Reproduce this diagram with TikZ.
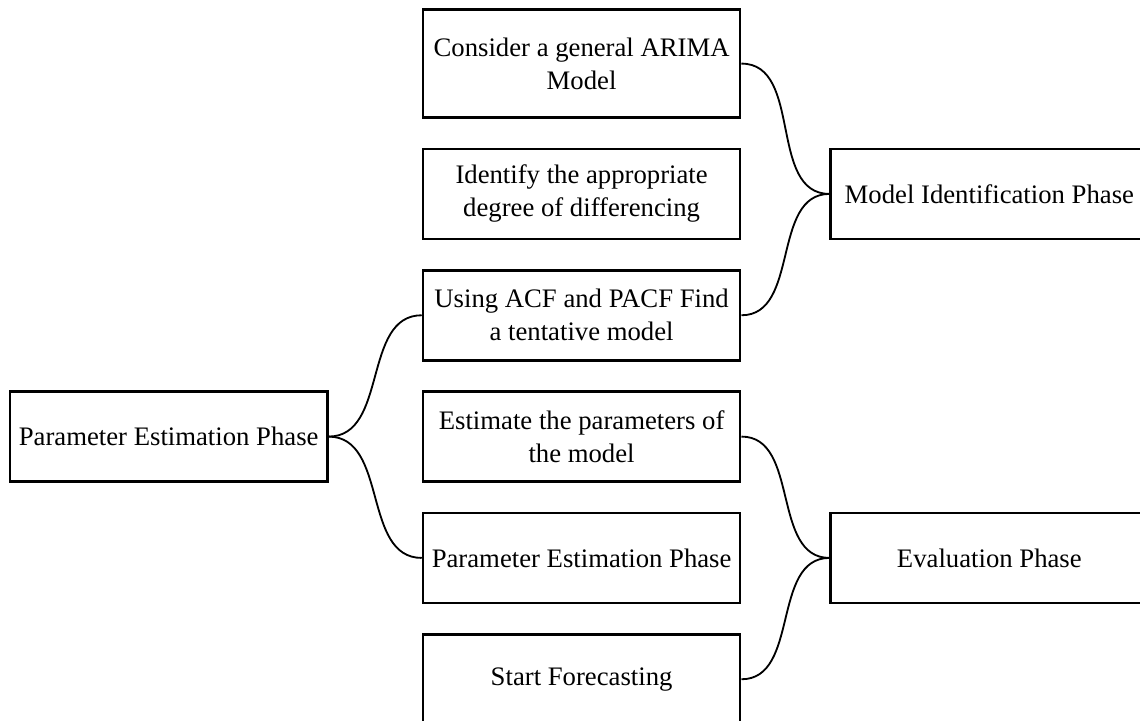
\documentclass[tikz,border=0pt]{standalone}
\usepackage{fontspec}
\setmainfont{Liberation Serif}
\usepackage{tikz}
\usetikzlibrary{positioning}

\begin{document}
\begin{tikzpicture}[node distance=0.72cm,
  link/.style={line width=1.3pt},
  phase box/.style={rectangle,draw,line width=1.8pt,align=center,
    minimum width=7.93cm,minimum height=2.25cm,inner sep=2pt,
    font=\fontsize{19}{23.5}\selectfont}]

  \useasboundingbox (0,0) rectangle (28.5,18);

  % middle column of steps
  \node[phase box,minimum height=2.7cm] (1) at (14.54,16.41) {Consider a general ARIMA\\Model};
  \node[phase box] (2) [below=of 1] {Identify the appropriate\\degree of differencing};
  \node[phase box] (3) [below=of 2] {Using ACF and PACF Find\\a tentative model};
  \node[phase box] (4) [below=of 3] {Estimate the parameters of\\the model};
  \node[phase box] (5) [below=of 4] {Parameter Estimation Phase};
  \node[phase box] (6) [below=of 5] {Start Forecasting};

  % phases
  \node[phase box] (7) [left=2.33cm of 4] {Parameter Estimation Phase};
  \node[phase box] (8) [right=2.2cm of 2] {Model Identification Phase};
  \node[phase box] (9) [right=2.2cm of 5] {Evaluation Phase};

  \draw[link] (7.east) to[out=0,in=180] (3.west);
  \draw[link] (7.east) to[out=0,in=180] (5.west);
  \draw[link] (1.east) to[out=0,in=180] (8.west);
  \draw[link] (3.east) to[out=0,in=180] (8.west);
  \draw[link] (4.east) to[out=0,in=180] (9.west);
  \draw[link] (6.east) to[out=0,in=180] (9.west);

\end{tikzpicture}
\end{document}
